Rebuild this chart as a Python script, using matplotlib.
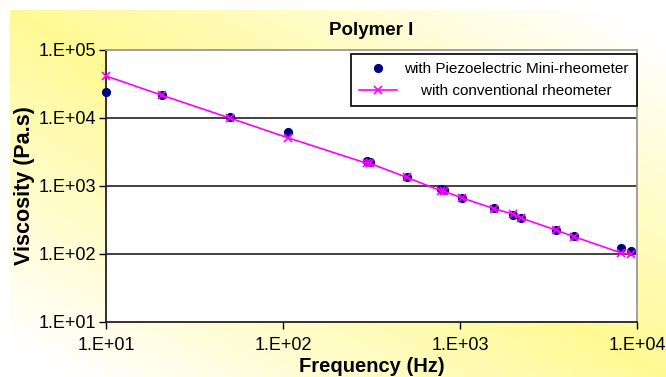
import matplotlib
matplotlib.use("Agg")
import matplotlib.pyplot as plt
import numpy as np

plt.rcParams['font.family'] = ['Liberation Sans', 'DejaVu Sans']

# Piezoelectric mini-rheometer (blue dots)
freq_piezo = [10, 20.8, 50, 107, 297, 310, 500, 780, 810, 1030, 1556, 1985, 2214, 3480, 4400, 8130, 9200]
visc_piezo = [24400, 22000, 10200, 6200, 2300, 2250, 1355, 900, 880, 673, 470, 371, 338, 227, 186, 122, 112]

# conventional rheometer (pink line with x)
freq_conv = [10, 20.8, 50, 107, 297, 310, 500, 780, 810, 1030, 1556, 1985, 2214, 3480, 4400, 8130, 9200]
visc_conv = [41500, 21500, 10000, 5100, 2160, 2150, 1340, 850, 840, 665, 465, 387, 338, 225, 180, 104, 99]

title = "Polymer I"
x_label = "Frequency (Hz)"
y_label = "Viscosity (Pa.s)"
x_ticks = [1e1, 1e2, 1e3, 1e4]
y_ticks = [1e1, 1e2, 1e3, 1e4, 1e5]

W, H = 666, 377
fig = plt.figure(figsize=(W / 100, H / 100), dpi=100)
fig.patch.set_facecolor("white")

# yellow gradient background (white strip along top and left edge)
bg = fig.add_axes([10 / W, 0, 1 - 10 / W, 1 - 10 / H])
gx, gy = np.meshgrid(np.linspace(0, 1, 200), np.linspace(0, 1, 120))
w = np.clip(1 - 1.1 * np.abs(gx - gy), 0, 1)
img = np.ones((120, 200, 3))
img[..., 2] = 1 - 0.42 * w
img[..., 1] = 1 - 0.02 * w
bg.imshow(img, aspect="auto", extent=[0, 1, 1, 0])
bg.axis("off")

ax = fig.add_axes([106 / W, 1 - 322 / H, (637 - 106) / W, (322 - 50) / H])
ax.set_facecolor("white")
ax.set_xscale("log")
ax.set_yscale("log")
ax.set_xlim(1e1, 1e4)
ax.set_ylim(1e1, 1e5)

for yv in y_ticks[1:-1]:
    ax.axhline(yv, color="#333333", lw=1.3, zorder=1)

ax.plot(freq_piezo, visc_piezo, linestyle="none", marker="o", markersize=5.6,
        color="#000080", label="with Piezoelectric Mini-rheometer", zorder=3, clip_on=False)
ax.plot(freq_conv, visc_conv, color="#FF00FF", lw=1.2, marker="x", markersize=6,
        markeredgewidth=1.2, label="    with conventional rheometer", zorder=4, clip_on=False)

ax.set_xticks(x_ticks)
ax.set_xticklabels(["1.E+01", "1.E+02", "1.E+03", "1.E+04"])
ax.set_yticks(y_ticks)
ax.set_yticklabels(["1.E+01", "1.E+02", "1.E+03", "1.E+04", "1.E+05"])
ax.minorticks_off()
ax.tick_params(axis="both", direction="out", length=5, width=1, labelsize=13, color="black")
ax.tick_params(axis="x", pad=6)
ax.tick_params(axis="y", pad=2)

for s in ["left", "bottom"]:
    ax.spines[s].set_color("#222222")
    ax.spines[s].set_linewidth(1.3)
for s in ["top", "right"]:
    ax.spines[s].set_color("#999999")
    ax.spines[s].set_linewidth(1.3)

ax.set_title(title, fontsize=13.5, fontweight="bold", pad=11)
ax.set_xlabel(x_label, fontsize=14.5, fontweight="bold", labelpad=2)
ax.set_ylabel(y_label, fontsize=15.5, fontweight="bold", labelpad=3)

leg = ax.legend(loc="upper right", bbox_to_anchor=(1.0, 1 - 4 / 272), borderaxespad=0,
                fontsize=11, frameon=True, fancybox=False, framealpha=1, edgecolor="black",
                borderpad=0.55, handlelength=2.5, handletextpad=0.45, labelspacing=0.5)
leg.get_frame().set_linewidth(1.2)

fig.savefig("out.png", dpi=100)
